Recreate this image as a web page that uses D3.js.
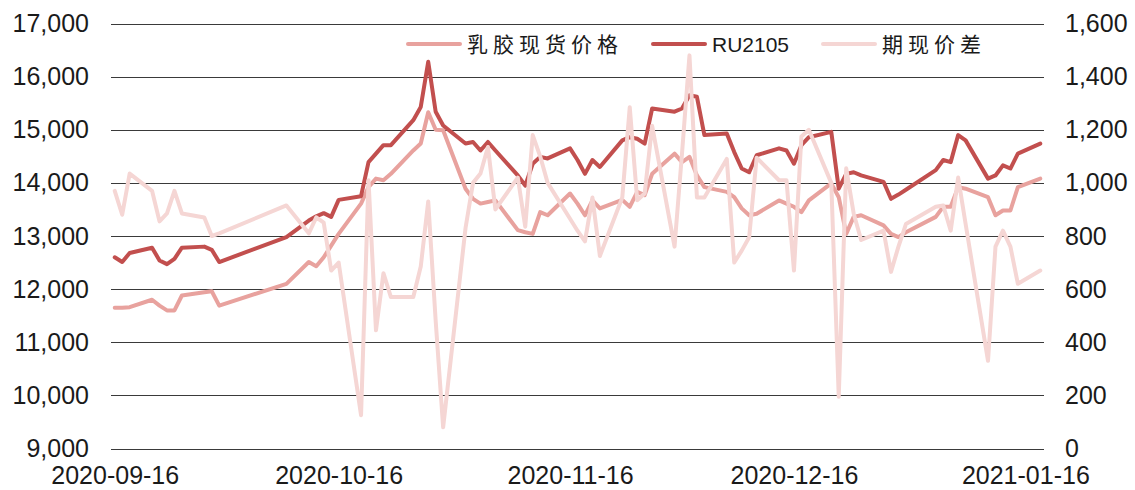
<!DOCTYPE html>
<html lang="zh">
<head>
<meta charset="utf-8">
<title>乳胶现货价格 / RU2105 / 期现价差</title>
<script src="https://cdn.jsdelivr.net/npm/d3@7/dist/d3.min.js"></script>
<style>
  html, body { margin: 0; padding: 0; background: #fff; }
  svg { display: block; }
  .grid line { stroke: #3a3a3a; stroke-width: 1; shape-rendering: crispEdges; }
  .axis text { font-family: "Liberation Sans", Arial, sans-serif; font-size: 25px; fill: #1a1a1a; }
  .legend text { font-size: 21px; fill: #1a1a1a; }
  .series { fill: none; stroke-width: 4; stroke-linejoin: round; stroke-linecap: round; }
</style>
</head>
<body>
<svg id="chart" width="1135" height="490"></svg>
<script>
// trading days
var dates = ["2020-09-16","2020-09-17","2020-09-18","2020-09-21","2020-09-22","2020-09-23","2020-09-24","2020-09-25","2020-09-28","2020-09-29","2020-09-30",
  "2020-10-09","2020-10-12","2020-10-13","2020-10-14","2020-10-15","2020-10-16","2020-10-19","2020-10-20","2020-10-21","2020-10-22","2020-10-23","2020-10-26","2020-10-27","2020-10-28","2020-10-29","2020-10-30",
  "2020-11-02","2020-11-03","2020-11-04","2020-11-05","2020-11-06","2020-11-09","2020-11-10","2020-11-11","2020-11-12","2020-11-13","2020-11-16","2020-11-17","2020-11-18","2020-11-19","2020-11-20","2020-11-23","2020-11-24","2020-11-25","2020-11-26","2020-11-27","2020-11-30",
  "2020-12-01","2020-12-02","2020-12-03","2020-12-04","2020-12-07","2020-12-08","2020-12-09","2020-12-10","2020-12-11","2020-12-14","2020-12-15","2020-12-16","2020-12-17","2020-12-18","2020-12-21","2020-12-22","2020-12-23","2020-12-24","2020-12-25","2020-12-28","2020-12-29","2020-12-30","2020-12-31",
  "2021-01-04","2021-01-05","2021-01-06","2021-01-07","2021-01-08","2021-01-11","2021-01-12","2021-01-13","2021-01-14","2021-01-15","2021-01-18"];

// 乳胶现货价格 (left axis)
var spot = [11650,11650,11660,11800,11690,11600,11600,11880,11940,11960,11690,
  12100,12510,12430,12600,12820,13040,13610,13920,14080,14050,14170,14610,14740,15330,15000,14990,
  13890,13700,13610,13640,13670,13110,13070,13040,13450,13390,13800,13610,13390,13670,13520,13680,13550,13830,13770,14170,14550,
  14390,14490,14140,13920,13830,13730,13520,13390,13420,13670,13610,13550,13450,13670,13990,13730,13040,13360,13390,13200,13040,12980,13070,
  13360,13550,13550,13920,13890,13730,13390,13480,13480,13920,14080];

// RU2105 (left axis)
var ru2105 = [12600,12510,12680,12780,12540,12470,12570,12780,12800,12740,12510,
  12980,13290,13370,13430,13360,13680,13750,14390,14550,14710,14710,15180,15430,16280,15340,15080,
  14740,14770,14610,14770,14610,14140,13950,14360,14490,14460,14650,14430,14170,14430,14300,14800,14860,14830,14740,15400,15340,
  15400,15650,15620,14900,14930,14580,14270,14200,14520,14650,14610,14360,14710,14860,14960,13890,14170,14200,14140,14020,13700,13780,13870,
  14240,14430,14390,14900,14800,14080,14140,14330,14270,14550,14740];

// 期现价差 (right axis)
var spread = [970,880,1035,970,855,885,970,885,870,800,810,
  915,810,870,850,670,700,125,1010,445,660,570,570,685,930,480,80,
  830,1000,1035,1135,900,1020,835,1180,1100,1000,865,820,780,945,725,945,1285,935,960,1215,760,
  1110,1480,945,945,1090,700,745,795,1095,1010,1010,670,1175,1200,1000,195,1055,885,785,820,665,760,845,
  910,915,820,1020,845,330,760,820,760,620,670];

var leftTicks = [9000,10000,11000,12000,13000,14000,15000,16000,17000];
var rightTicks = [0,200,400,600,800,1000,1200,1400,1600];
var xTickLabels = ["2020-09-16","2020-10-16","2020-11-16","2020-12-16","2021-01-16"];

var names = ["乳胶现货价格","RU2105","期现价差"];
var colors = ["#E8A29E","#C24F4E","#F5D6D4"];

var parse = d3.timeParse("%Y-%m-%d");
var fmt = d3.timeFormat("%Y-%m-%d");
var days = dates.map(parse);

var svg = d3.select("#chart");
var plotLeft = 111, plotRight = 1044, plotTop = 23.5, plotBottom = 448.5;

// date axis, half a day of padding on each end
var x = d3.scaleTime()
  .domain([d3.timeHour.offset(days[0], -12), d3.timeHour.offset(days[days.length-1], 12)])
  .range([plotLeft, plotRight]);
var yL = d3.scaleLinear().domain([9000,17000]).range([plotBottom, plotTop]);
var yR = d3.scaleLinear().domain([0,1600]).range([plotBottom, plotTop]);

// gridlines
svg.append("g").attr("class","grid")
  .selectAll("line").data(leftTicks).enter().append("line")
  .attr("x1", plotLeft).attr("x2", plotRight)
  .attr("y1", function(d){ return Math.round(yL(d)) + 0.5; })
  .attr("y2", function(d){ return Math.round(yL(d)) + 0.5; });

// axes
var gl = svg.append("g").attr("class","axis")
  .attr("transform","translate(" + plotLeft + ",0)")
  .call(d3.axisLeft(yL).tickValues(leftTicks).tickSize(0).tickPadding(22).tickFormat(d3.format(",")));
var gr = svg.append("g").attr("class","axis")
  .attr("transform","translate(" + plotRight + ",0)")
  .call(d3.axisRight(yR).tickValues(rightTicks).tickSize(0).tickPadding(21).tickFormat(d3.format(",")));
var gx = svg.append("g").attr("class","axis")
  .attr("transform","translate(0," + plotBottom + ")")
  .call(d3.axisBottom(x).tickValues(xTickLabels.map(parse)).tickSize(0).tickPadding(18).tickFormat(fmt));
[gl, gr, gx].forEach(function(g){
  g.attr("font-size", null).attr("font-family", null);
  g.select(".domain").remove();
});

// lines: spot, futures, then spread on the secondary axis
var series = [
  {name: names[0], values: spot, y: yL, color: colors[0]},
  {name: names[1], values: ru2105, y: yL, color: colors[1]},
  {name: names[2], values: spread, y: yR, color: colors[2]}
];
series.forEach(function(s){
  var line = d3.line()
    .x(function(d, i){ return x(days[i]); })
    .y(function(d){ return s.y(d); });
  svg.append("path").attr("class","series")
    .attr("stroke", s.color)
    .attr("d", line(s.values));
});

// legend
var legendX = [408, 653, 823];
var lg = svg.append("g").attr("class","legend");
series.forEach(function(s, i){
  lg.append("line")
    .attr("x1", legendX[i]).attr("x2", legendX[i] + 52)
    .attr("y1", 44).attr("y2", 44)
    .attr("stroke", s.color).attr("stroke-width", 4).attr("stroke-linecap","round");
  var latin = /^[A-Za-z0-9]+$/.test(s.name);
  lg.append("text")
    .attr("x", legendX[i] + 59).attr("y", 44).attr("dy","0.36em")
    .attr("font-family", latin ? "'Liberation Sans', Arial, sans-serif" : "'Noto Sans CJK SC', sans-serif")
    .attr("font-size", latin ? 24 : 21)
    .attr("letter-spacing", latin ? 0 : 5)
    .text(s.name);
});
</script>
</body>
</html>
